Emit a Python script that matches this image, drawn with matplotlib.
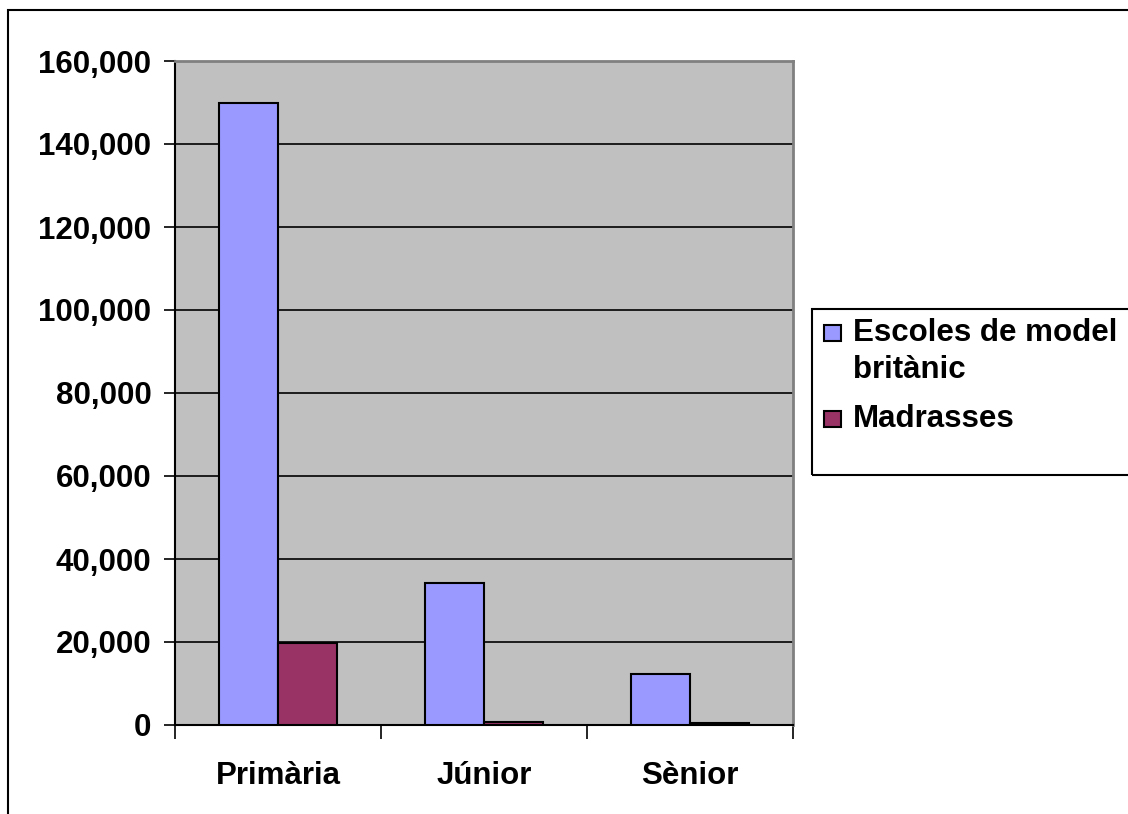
import matplotlib.pyplot as plt
import numpy as np
from matplotlib.patches import Rectangle

categories = ["Primària", "Júnior", "Sènior"]
series_names = ["Escoles de model\nbritànic", "Madrasses"]
escoles = [150000, 34100, 12300]
madrasses = [19700, 800, 400]
yticks = [0, 20000, 40000, 60000, 80000, 100000, 120000, 140000, 160000]

colors = ["#9999FF", "#993366"]

plt.rcParams['font.family'] = ['Liberation Sans', 'DejaVu Sans']
plt.rcParams['font.weight'] = 'bold'
FS = 22.5

W, H = 1128, 814
fig = plt.figure(figsize=(W / 100, H / 100), dpi=100)
ax = fig.add_axes([175 / W, 1 - 725 / H, (793 - 175) / W, (725 - 61) / H])

ax.set_facecolor("#C0C0C0")
x = np.arange(len(categories))
bw = 1 / 3.5
ax.bar(x - bw / 2, escoles, width=bw, color=colors[0], edgecolor="black",
       linewidth=1.5, zorder=3)
ax.bar(x + bw / 2, madrasses, width=bw, color=colors[1], edgecolor="black",
       linewidth=1.5, zorder=3)

ax.set_xlim(-0.5, len(categories) - 0.5)
ax.set_ylim(0, 160000)
ax.set_yticks(yticks)
ax.set_yticklabels([f"{v:,}" for v in yticks], fontsize=FS, fontweight="bold")
ax.yaxis.grid(True, color="black", linewidth=1.2, zorder=1)
ax.set_axisbelow(True)

ax.set_xticks(np.arange(-0.5, len(categories), 1.0))
ax.set_xticklabels([])
ax.set_xticks(x, minor=True)
ax.set_xticklabels(categories, minor=True, fontsize=FS, fontweight="bold")
ax.tick_params(axis="x", which="minor", length=0, pad=26)
ax.tick_params(axis="x", which="major", length=10, width=1.2, direction="out")
ax.tick_params(axis="y", length=8, width=1.2, direction="out", pad=9)

for side in ["left", "bottom"]:
    ax.spines[side].set_color("black")
    ax.spines[side].set_linewidth(1.5)
for side in ["top", "right"]:
    ax.spines[side].set_color("#808080")
    ax.spines[side].set_linewidth(2)

# outer chart frame (clipped at right/bottom in the original)
fig.patches.append(Rectangle((8 / W, -0.05), 1.1, 1 - 10 / H + 0.05,
                             transform=fig.transFigure, fill=False,
                             edgecolor="black", linewidth=1.5, clip_on=False))

# legend, drawn by hand so the swatch sits on the first text line
fig.patches.append(Rectangle((812 / W, 1 - 475 / H), 1.0, (475 - 309) / H,
                             transform=fig.transFigure, fill=False,
                             edgecolor="black", linewidth=1.5, clip_on=False))
entry_y = [333, 419]
for name, col, yy in zip(series_names, colors, entry_y):
    fig.patches.append(Rectangle((824 / W, 1 - (yy + 8) / H), 17 / W, 16 / H,
                                 transform=fig.transFigure, facecolor=col,
                                 edgecolor="black", linewidth=1.5))
    fig.text(853 / W, 1 - (yy - 15) / H, name, fontsize=FS, fontweight="bold",
             va="top", ha="left", linespacing=1.3)

fig.savefig("out.png", dpi=100)
